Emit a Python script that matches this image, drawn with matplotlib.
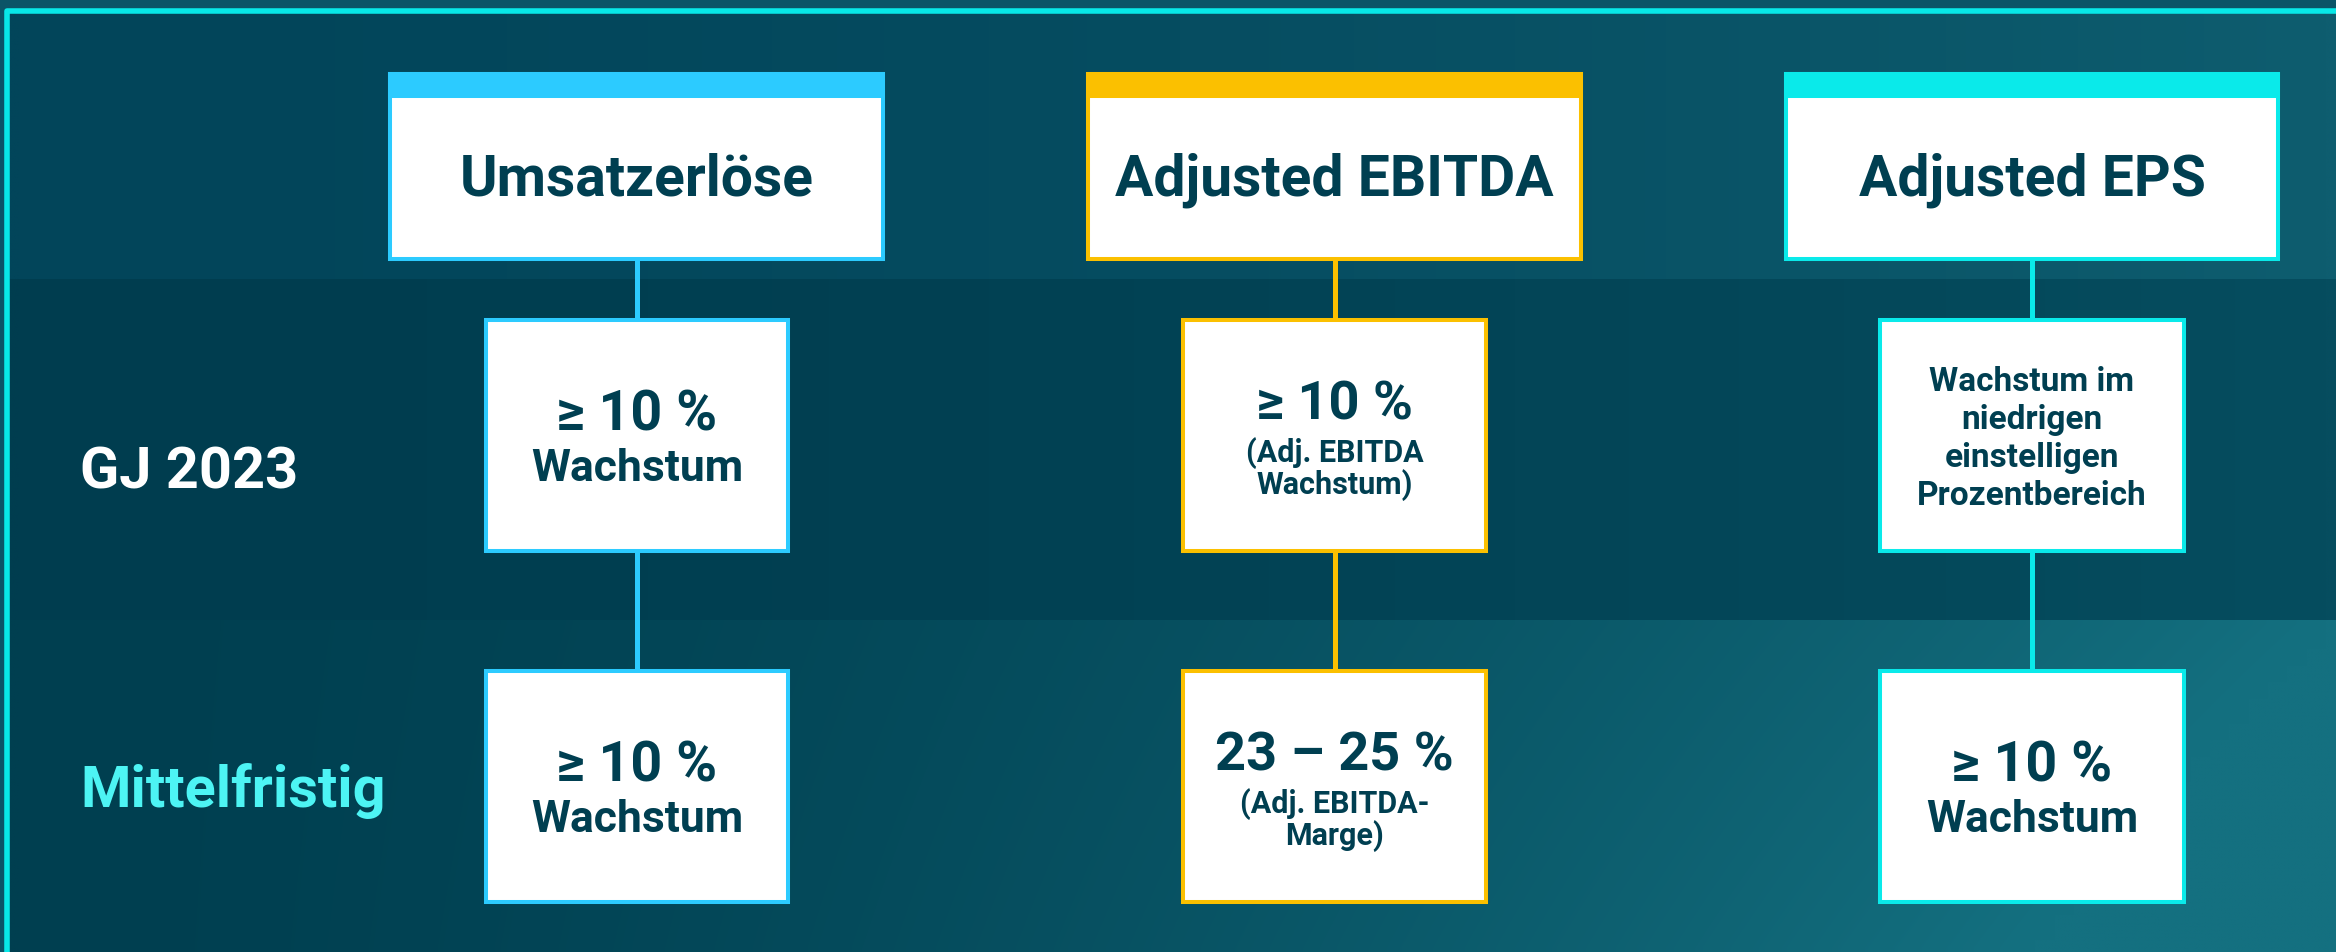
import numpy as np
import matplotlib
matplotlib.use("Agg")
import matplotlib.pyplot as plt
from matplotlib.patches import Rectangle
from matplotlib.colors import to_rgb

# --- content ---
headers = ["Umsatzerlöse", "Adjusted EBITDA", "Adjusted EPS"]
accent = ["#2ccbff", "#fbc000", "#0aeaea"]
row_labels = ["GJ 2023", "Mittelfristig"]
row_label_colors = ["#ffffff", "#4df4f4"]
gj2023_main = ["≥ 10 %", "≥ 10 %", ""]
gj2023_sub = ["Wachstum", "(Adj. EBITDA\nWachstum)",
              "Wachstum im\nniedrigen\neinstelligen\nProzentbereich"]
mittel_main = ["≥ 10 %", "23 – 25 %", "≥ 10 %"]
mittel_sub = ["Wachstum", "(Adj. EBITDA-\nMarge)", "Wachstum"]

NAVY = "#003f51"
FONT = "Roboto"
W, H = 2336, 953

fig = plt.figure(figsize=(W / 100, H / 100), dpi=100)
ax = fig.add_axes([0, 0, 1, 1])
ax.set_xlim(0, W)
ax.set_ylim(H, 0)
ax.axis("off")
fig.patch.set_facecolor("#0b5467")


def band(y0, y1, left, right, bottom_boost=0.0):
    # horizontal gradient, a bit lighter toward the lower right
    nx, ny = 120, 40
    tx = np.linspace(0, 1, nx) ** 1.6
    ty = np.linspace(0, 1, ny)
    t = np.clip(tx[None, :] + bottom_boost * ty[:, None] * tx[None, :], 0, 1)
    a, b = np.array(to_rgb(left)), np.array(to_rgb(right))
    img = a[None, None, :] * (1 - t[..., None]) + b[None, None, :] * t[..., None]
    ax.imshow(img, extent=(9, W, y1, y0), origin="upper",
              interpolation="bilinear", aspect="auto", zorder=0)


band(14, 280, "#02455a", "#0e5d6f")
band(280, 621, "#003d4f", "#064d5f")
band(621, H, "#003f50", "#147080", bottom_boost=0.25)

# outer frame
ax.plot([6.5, 6.5, W], [H, 12, 12], color="#08e8e8", lw=4, zorder=1,
        solid_joinstyle="round", solid_capstyle="butt")

# layout
head_x = [(390, 883), (1088, 1581), (1786, 2278)]
head_y = (75, 260)
box_x = [(486, 788), (1183, 1486), (1880, 2184)]
mid_y = (321, 552)
bot_y = (672, 903)
BW = 2.9  # border width in pt (~4px)

for i in range(3):
    cx = (box_x[i][0] + box_x[i][1]) / 2
    ax.plot([cx, cx], [head_y[1], bot_y[0]], color=accent[i], lw=3.6, zorder=2)

    # header box
    x0, x1 = head_x[i]
    ax.add_patch(Rectangle((x0, head_y[0]), x1 - x0, head_y[1] - head_y[0],
                           facecolor="white", edgecolor=accent[i], lw=BW, zorder=3))
    ax.add_patch(Rectangle((x0, head_y[0]), x1 - x0, 22,
                           facecolor=accent[i], edgecolor=accent[i], lw=BW, zorder=4))
    ax.text((x0 + x1) / 2, 196, headers[i], ha="center", va="baseline",
            fontsize=41, fontweight="bold", color=NAVY, family=FONT, zorder=5)

    for (y0, y1), main, sub in [(mid_y, gj2023_main[i], gj2023_sub[i]),
                                (bot_y, mittel_main[i], mittel_sub[i])]:
        bx0, bx1 = box_x[i]
        ax.add_patch(Rectangle((bx0, y0), bx1 - bx0, y1 - y0,
                               facecolor="white", edgecolor=accent[i], lw=BW, zorder=3))
        lines = sub.split("\n")
        if main and sub.startswith("("):
            ax.text(cx, y0 + 99, main, ha="center", va="baseline", fontsize=39,
                    fontweight="bold", color=NAVY, family=FONT, zorder=5)
            for k, ln in enumerate(lines):
                ax.text(cx, y0 + 141 + 32 * k, ln, ha="center", va="baseline",
                        fontsize=22, fontweight="bold", color=NAVY, family=FONT, zorder=5)
        elif main:
            ax.text(cx, y0 + 110, main, ha="center", va="baseline", fontsize=40,
                    fontweight="bold", color=NAVY, family=FONT, zorder=5)
            ax.text(cx, y0 + 160, sub, ha="center", va="baseline", fontsize=32,
                    fontweight="bold", color=NAVY, family=FONT, zorder=5)
        else:
            for k, ln in enumerate(lines):
                ax.text(cx, y0 + 70 + 38 * k, ln, ha="center", va="baseline",
                        fontsize=24, fontweight="bold", color=NAVY, family=FONT, zorder=5)

# row labels
for lbl, col, yb in zip(row_labels, row_label_colors, [489, 807]):
    ax.text(80, yb, lbl, ha="left", va="baseline", fontsize=41.5,
            fontweight="bold", color=col, family=FONT, zorder=5)

fig.savefig("out.png", dpi=100, facecolor=fig.get_facecolor())
